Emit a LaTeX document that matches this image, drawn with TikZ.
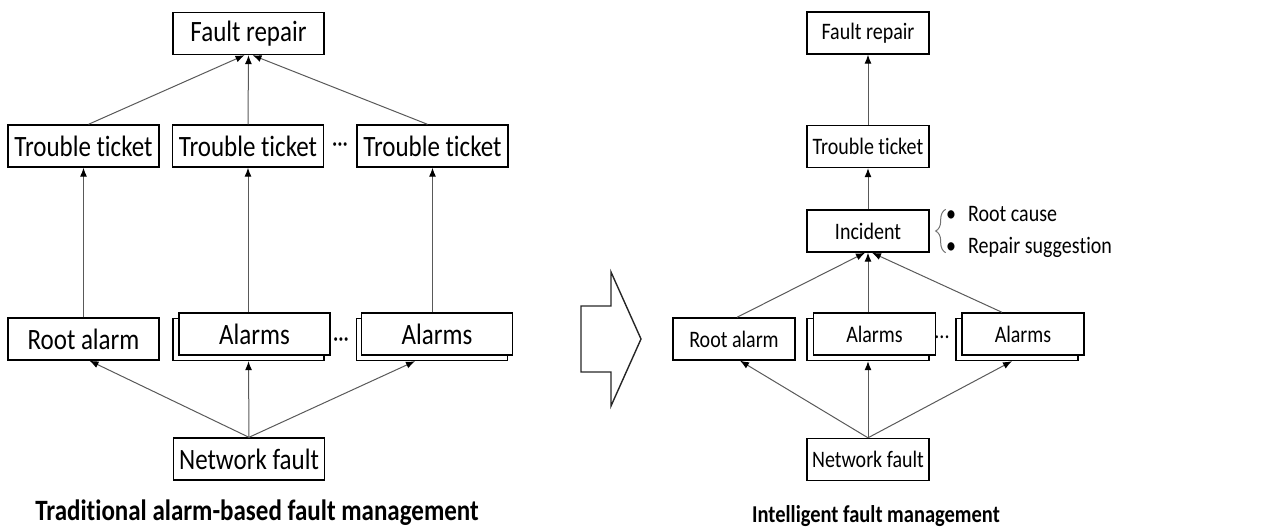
\documentclass[tikz,border=0pt]{standalone}
\usepackage{fontspec}
\usepackage{graphicx}
\setmainfont{Carlito}[Ligatures=NoCommon]
\usetikzlibrary{arrows.meta,decorations.pathreplacing}

% text of the source is a little taller than wide
\newcommand\Tall[1]{\scalebox{1}[1.18]{#1}}

\begin{document}
\begin{tikzpicture}[x=1pt,y=-1pt,
   Box/.style   = {draw, line width=1.4pt, fill=white, inner sep=0pt,
                   minimum width=151pt, minimum height=42pt,
                   font=\fontsize{25}{28}\selectfont},
   SBox/.style  = {Box, minimum width=122pt, font=\fontsize{20}{24}\selectfont},
   Link/.style  = {-{Latex[length=9pt,width=7pt,color=black]}, line width=1pt, black!65},
   Dots/.style  = {inner sep=0pt, font=\fontsize{21}{24}\selectfont},
   Caption/.style = {font=\bfseries\fontsize{25}{28}\selectfont}]
   \useasboundingbox (0,0) rectangle (1264,528);
   % traditional
   \node[Box] (FRL)  at (248.5,33.5) {\Tall{Fault repair}};
   \node[Box] (TTL1) at (83.5,146)   {\Tall{Trouble ticket}};
   \node[Box] (TTL2) at (248,146)    {\Tall{Trouble ticket}};
   \node[Box] (TTL3) at (432.5,146)  {\Tall{Trouble ticket}};
   \node[Dots] (DTL) at (340,147)    {\Tall{···}};
   \node[Box] (RAL)  at (83.5,339)   {\Tall{Root alarm}};
   \node[Box] (ALL1b) at (248.5,339.5) {};
   \node[Box] (ALL1) at (254.5,334)  {\Tall{Alarms}};
   \node[Box] (ALL2b) at (432,339.5) {};
   \node[Box] (ALL2) at (437,334)    {\Tall{Alarms}};
   \node[Dots] (DAL) at (341,342)    {\Tall{···}};
   \node[Box] (NFL)  at (249,459)    {\Tall{Network fault}};
   \node[Caption] (CapL) at (257,513) {\Tall{Traditional alarm-based fault management}};
   \draw[Link] (NFL.north) -- ([xshift=6pt]RAL.south);
   \draw[Link] (NFL.north) -- (ALL1b.south);
   \draw[Link] (NFL.north) -- ([xshift=-17pt]ALL2b.south);
   \draw[Link] (RAL.north) -- (TTL1.south);
   \draw[Link] (TTL2.south |- ALL1.north) -- (TTL2.south);
   \draw[Link] (TTL3.south |- ALL2.north) -- (TTL3.south);
   \draw[Link] ([xshift=5pt]TTL1.north) -- ([xshift=-4pt]FRL.south);
   \draw[Link] (TTL2.north) -- (FRL.south);
   \draw[Link] ([xshift=-5pt]TTL3.north) -- ([xshift=4pt]FRL.south);
   % big arrow
   \draw[line width=1.4pt, black!85, line join=miter]
      (581,306) -- (611,306) -- (611,272) -- (641,339) -- (611,406)
      -- (611,372) -- (581,372) -- cycle;
   % intelligent
   \node[SBox] (FRR)  at (868,33)     {\Tall{Fault repair}};
   \node[SBox] (TTR)  at (868,146.5)  {\Tall{Trouble ticket}};
   \node[SBox] (INR)  at (868,231)    {\Tall{Incident}};
   \node[SBox] (RAR)  at (734,339)    {\Tall{Root alarm}};
   \node[SBox] (ALR1b) at (868,339.5) {};
   \node[SBox] (ALR1) at (874.5,334)  {\Tall{Alarms}};
   \node[SBox] (ALR2b) at (1017,339.5) {};
   \node[SBox] (ALR2) at (1023,334)   {\Tall{Alarms}};
   \node[Dots, font=\fontsize{20}{24}\selectfont] (DAR) at (942,337) {\Tall{...}};
   \node[SBox] (NFR)  at (868,459.5)  {\Tall{Network fault}};
   \node[anchor=west, align=left, inner sep=0pt,
         font=\fontsize{20}{32}\selectfont] (Notes) at (946,232)
         {\Tall{\textbullet\hspace{12pt}Root cause}\\
          \Tall{\textbullet\hspace{12pt}Repair suggestion}};
   \node[Caption, font=\bfseries\fontsize{20.5}{24}\selectfont] (CapR) at (876,516)
         {\Tall{Intelligent fault management}};
   \draw[line width=1pt, black!55, decorate, decoration={brace, amplitude=10pt}]
      ([xshift=16pt]INR.south east) -- ([xshift=16pt]INR.north east);
   \draw[Link] (NFR.north) -- ([xshift=6pt]RAR.south);
   \draw[Link] (NFR.north) -- (ALR1b.south);
   \draw[Link] (NFR.north) -- ([xshift=-5pt]ALR2b.south);
   \draw[Link] ([xshift=3pt]RAR.north) -- ([xshift=-3pt]INR.south);
   \draw[Link] (INR.south |- ALR1.north) -- (INR.south);
   \draw[Link] ([xshift=-21pt]ALR2.north) -- ([xshift=4pt]INR.south);
   \draw[Link] (INR.north) -- (TTR.south);
   \draw[Link] (TTR.north) -- (FRR.south);
\end{tikzpicture}
\end{document}
